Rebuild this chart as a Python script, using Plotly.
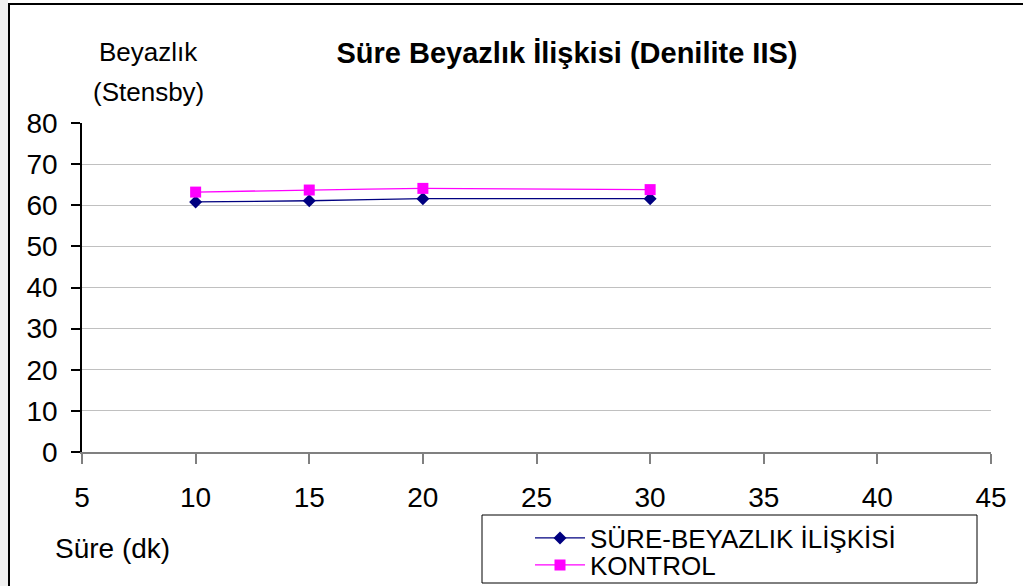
import plotly.graph_objects as go

# data
sure = [10, 15, 20, 30]
beyazlik = [60.8, 61.1, 61.6, 61.6]
kontrol = [63.2, 63.7, 64.1, 63.8]

W, H = 1023, 586
L, R, T, B = 82, 32, 123, 134
PW, PH = W - L - R, H - T - B
FONT = "Liberation Sans, Arial, sans-serif"


def px(x):
    return (x - L) / PW


def py(y):
    return (H - B - y) / PH


fig = go.Figure()

fig.add_trace(
    go.Scatter(
        x=sure,
        y=beyazlik,
        mode="lines+markers",
        name="SÜRE-BEYAZLIK İLİŞKİSİ",
        legend="legend",
        line=dict(color="#000080", width=1.3, shape="spline", smoothing=0.6),
        marker=dict(symbol="diamond", size=10, color="#000080"),
    )
)
fig.add_trace(
    go.Scatter(
        x=sure,
        y=kontrol,
        mode="lines+markers",
        name="KONTROL",
        legend="legend2",
        line=dict(color="#FF00FF", width=1.3, shape="spline", smoothing=0.6),
        marker=dict(symbol="square", size=11, color="#FF00FF"),
    )
)

shapes = [
    # left grey strip and outer chart border
    dict(type="rect", xref="paper", yref="paper", x0=px(-5), x1=px(8), y0=py(600), y1=py(-5),
         fillcolor="#f0f0f0", line=dict(width=0), layer="below"),
    dict(type="rect", xref="paper", yref="paper", x0=px(9), x1=px(1040), y0=py(600), y1=py(4),
         line=dict(color="black", width=2), fillcolor="rgba(0,0,0,0)"),
    # legend box
    dict(type="rect", xref="paper", yref="paper", x0=px(482), x1=px(977), y0=py(583), y1=py(515),
         line=dict(color="black", width=1), fillcolor="white", layer="below"),
]

annotations = [
    dict(text="Beyazlık", x=px(148), y=py(52), xref="paper", yref="paper", showarrow=False,
         xanchor="center", yanchor="middle", font=dict(size=26, color="black", family=FONT)),
    dict(text="(Stensby)", x=px(148), y=py(92), xref="paper", yref="paper", showarrow=False,
         xanchor="center", yanchor="middle", font=dict(size=26, color="black", family=FONT)),
    dict(text="Süre (dk)", x=px(112), y=py(548), xref="paper", yref="paper", showarrow=False,
         xanchor="center", yanchor="middle", font=dict(size=28, color="black", family=FONT)),
]

legend_style = dict(
    xanchor="left",
    yanchor="middle",
    bgcolor="rgba(0,0,0,0)",
    borderwidth=0,
    itemwidth=50,
    tracegroupgap=0,
    font=dict(size=26, color="black", family=FONT),
)

fig.update_layout(
    width=W,
    height=H,
    margin=dict(l=L, r=R, t=T, b=B, autoexpand=False),
    paper_bgcolor="white",
    plot_bgcolor="white",
    font=dict(family=FONT, size=28, color="black"),
    title=dict(
        text="<b>Süre Beyazlık İlişkisi (Denilite IIS)</b>",
        x=567 / W,
        y=1 - 53 / H,
        xanchor="center",
        yanchor="middle",
        font=dict(size=29, color="black", family=FONT),
    ),
    xaxis=dict(
        range=[5, 45],
        dtick=5,
        tick0=5,
        showgrid=False,
        zeroline=False,
        showline=True,
        linecolor="#808080",
        linewidth=2,
        ticks="outside",
        ticklen=10,
        tickcolor="#808080",
        tickwidth=2,
        ticklabelstandoff=9,
        tickfont=dict(size=28),
        automargin=False,
    ),
    yaxis=dict(
        range=[0, 80],
        dtick=10,
        showgrid=True,
        gridcolor="#c0c0c0",
        gridwidth=1,
        zeroline=False,
        showline=True,
        linecolor="black",
        linewidth=1.5,
        ticks="outside",
        ticklen=9,
        tickcolor="black",
        tickwidth=1.5,
        ticklabelstandoff=8,
        tickfont=dict(size=28),
        automargin=False,
    ),
    showlegend=True,
    legend=dict(x=px(530), y=py(538), **legend_style),
    legend2=dict(x=px(530), y=py(565), **legend_style),
    shapes=shapes,
    annotations=annotations,
)

fig.write_html(
    "out.html",
    config={"displayModeBar": False},
    post_script="document.body.style.margin='0';",
)
